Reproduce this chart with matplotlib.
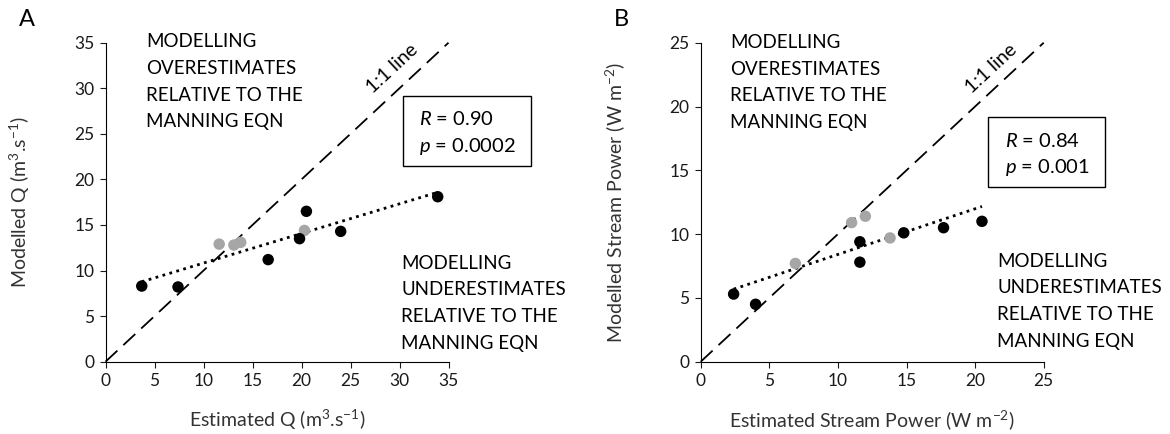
import numpy as np
import matplotlib
matplotlib.use("Agg")
import matplotlib.pyplot as plt
from matplotlib.patches import Rectangle

plt.rcParams['font.family'] = ['Lato', 'DejaVu Sans']
plt.rcParams['mathtext.fontset'] = 'custom'
plt.rcParams['mathtext.rm'] = 'Lato'
plt.rcParams['mathtext.it'] = 'Lato:italic'

# panel A: discharge
q_est_black = [3.7, 7.4, 16.6, 19.8, 20.5, 24.0, 33.9]
q_mod_black = [8.3, 8.2, 11.2, 13.5, 16.5, 14.3, 18.1]
q_est_grey = [11.6, 13.1, 13.8, 20.3]
q_mod_grey = [12.9, 12.8, 13.1, 14.4]

# panel B: stream power
sp_est_black = [2.4, 4.0, 11.6, 11.6, 14.8, 17.7, 20.5]
sp_mod_black = [5.3, 4.5, 9.4, 7.8, 10.1, 10.5, 11.0]
sp_est_grey = [6.9, 11.0, 12.0, 13.8]
sp_mod_grey = [7.7, 10.9, 11.4, 9.7]

panels = [
    dict(letter='A', xb=q_est_black, yb=q_mod_black, xg=q_est_grey, yg=q_mod_grey,
         lim=35, xlabel=r'Estimated Q (m$^{3}$.s$^{-1}$)',
         ylabel=r'Modelled Q (m$^{3}$.s$^{-1}$)',
         stats=[r'$R$ = 0.90', r'$p$ = 0.0002'],
         left=105.5, over=(4.13, 34.5), under=(30.2, 10.2),
         box=(30.36, 21.5, 43.45, 29.15), stat_xy=(31.96, 25.96, 23.04),
         one=(29.3, 32.2)),
    dict(letter='B', xb=sp_est_black, yb=sp_mod_black, xg=sp_est_grey, yg=sp_mod_grey,
         lim=25, xlabel=r'Estimated Stream Power (W m$^{-2}$)',
         ylabel=r'Modelled Stream Power (W m$^{-2}$)',
         stats=[r'$R$ = 0.84', r'$p$ = 0.001'],
         left=700.7, over=(2.14, 24.58), under=(21.6, 7.46),
         box=(20.91, 13.69, 29.46, 19.18), stat_xy=(22.18, 16.85, 14.81),
         one=(21.2, 23.0)),
]

W, H = 1170, 434
fig = plt.figure(figsize=(W / 100, H / 100), dpi=100)

over_lines = ['MODELLING', 'OVERESTIMATES', 'RELATIVE TO THE', 'MANNING EQN']
under_lines = ['MODELLING', 'UNDERESTIMATES', 'RELATIVE TO THE', 'MANNING EQN']

for p in panels:
    ax = fig.add_axes([p['left'] / W, 1 - 361.7 / H, 343 / W, 319 / H])
    lim = p['lim']
    ax.set_xlim(0, lim)
    ax.set_ylim(0, lim)
    ax.set_xticks(np.arange(0, lim + 1, 5))
    ax.set_yticks(np.arange(0, lim + 1, 5))
    for s in ['top', 'right']:
        ax.spines[s].set_visible(False)
    for s in ['left', 'bottom']:
        ax.spines[s].set_linewidth(0.8)
    ax.tick_params(length=4, width=0.8, labelsize=12.5, colors='#1a1a1a', pad=4)

    # 1:1 line
    ax.plot([0, lim], [0, lim], color='black', lw=1.3, dashes=(9, 4.5), clip_on=False)
    # trend line through all points
    xs = np.array(p['xb'] + p['xg'])
    ys = np.array(p['yb'] + p['yg'])
    k, b = np.polyfit(xs, ys, 1)
    xx = np.array([xs.min(), xs.max()])
    ax.plot(xx, k * xx + b, color='black', lw=2.0, linestyle=(0, (1, 1.6)))

    ax.scatter(p['xg'], p['yg'], s=68, color='#a6a6a6', edgecolors='none', zorder=3)
    ax.scatter(p['xb'], p['yb'], s=68, color='black', edgecolors='none', zorder=4)

    ax.set_xlabel(p['xlabel'], fontsize=14, color='#333333')
    ax.set_ylabel(p['ylabel'], fontsize=14, color='#333333')
    ax.xaxis.set_label_coords(0.5, -0.145)
    ax.yaxis.set_label_coords(-0.215, 0.5)

    ang = np.degrees(np.arctan(319 / 343))
    ax.text(p['one'][0], p['one'][1], '1:1 line', rotation=ang, rotation_mode='anchor',
            ha='center', va='center', fontsize=14)

    for lines, (tx, ty) in [(over_lines, p['over']), (under_lines, p['under'])]:
        for i, line in enumerate(lines):
            ax.annotate(line, xy=(tx, ty), xycoords='data', xytext=(0, -i * 19.2),
                        textcoords='offset points', va='baseline', ha='left',
                        fontsize=13.5, annotation_clip=False)

    x0, y0, x1, y1 = p['box']
    ax.add_patch(Rectangle((x0, y0), x1 - x0, y1 - y0, fill=False, edgecolor='black',
                           lw=1.0, clip_on=False))
    sx, sy1, sy2 = p['stat_xy']
    ax.text(sx, sy1, p['stats'][0], fontsize=14.5, va='baseline', ha='left')
    ax.text(sx, sy2, p['stats'][1], fontsize=14.5, va='baseline', ha='left')

    fig.text((p['left'] - 79) / W, 1 - 19 / H, p['letter'], fontsize=17,
             ha='center', va='center')

fig.savefig('out.png', dpi=100)
